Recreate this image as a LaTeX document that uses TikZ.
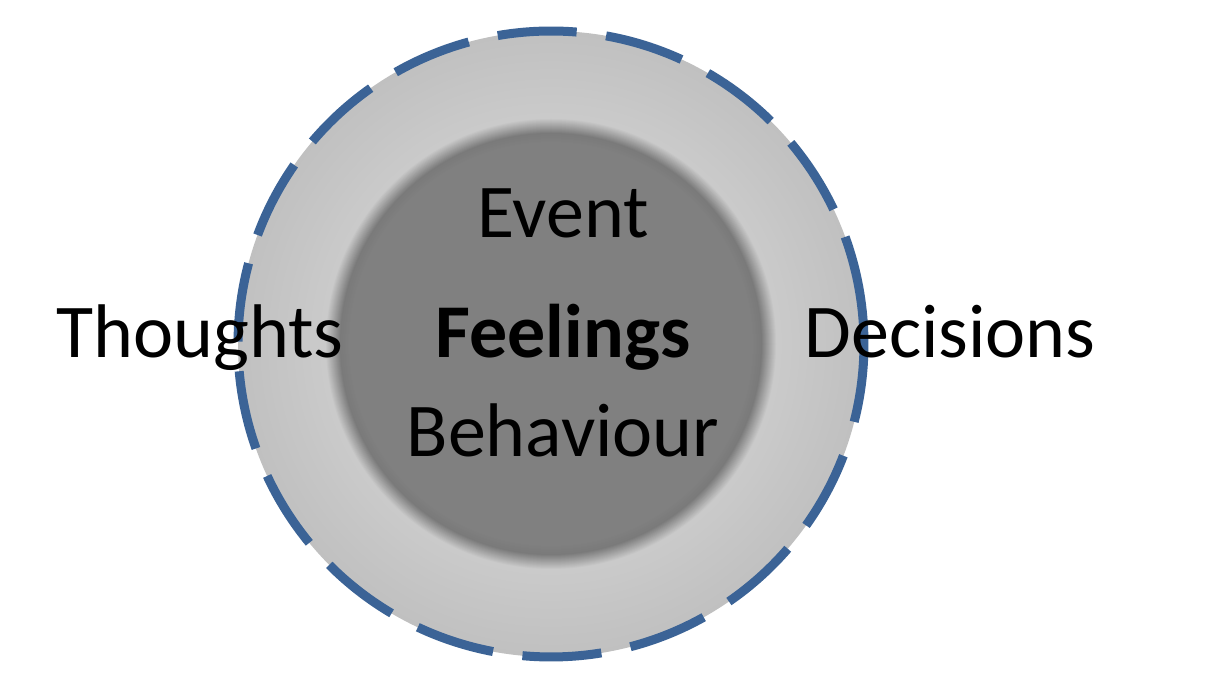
\documentclass[tikz,border=0pt]{standalone}
\usepackage{fontspec}
\setmainfont{Carlito}
\definecolor{ringout}{HTML}{C0C0C0}
\definecolor{ringin}{HTML}{CACACA}
\definecolor{coredark}{HTML}{808080}
\definecolor{corerim}{HTML}{7A7A7A}
\definecolor{dashblue}{HTML}{3B6396}
\tikzset{
  dashstroke/.style={draw=dashblue, line width=9pt, line cap=butt},
  label/.style={font=\fontsize{76}{82}\selectfont, text=black, inner sep=0pt, anchor=base},
}
\begin{document}
\begin{tikzpicture}[x=1pt,y=1pt]
\useasboundingbox (0,0) rectangle (1219,684);
\fill[white] (0,0) rectangle (1219,684);
\coordinate (c) at (551,340);
% outer ring with mild gradient
\foreach \r in {313,311,...,229}{
  \pgfmathsetmacro{\p}{100*(\r-229)/84}
  \fill[ringout!\p!ringin] (c) circle[radius=\r];
}
% soft-edged inner circle
\foreach \r in {226,225,...,200}{
  \ifdim\r pt>211pt
    \pgfmathsetmacro{\q}{100*(\r-211)/15}
    \fill[ringin!\q!corerim] (c) circle[radius=\r];
  \else
    \pgfmathsetmacro{\t}{min(100,100*(211-\r)/10)}
    \fill[coredark!\t!corerim] (c) circle[radius=\r];
  \fi
}
\fill[coredark] (c) circle[radius=199];
% dashed outline
\draw[dashstroke] (c) ++(-14.4:313) arc[start angle=-14.4, delta angle=34.4, radius=313];
\foreach \k in {2,...,17}{
  \pgfmathsetmacro{\a}{-14.4+19.94*\k}
  \draw[dashstroke] (c) ++(\a:313) arc[start angle=\a, delta angle=14.5, radius=313];
}
% labels
\node[label] (event) at (563,446) {Event};
\node[label, font=\fontsize{76}{82}\selectfont\bfseries] (feel) at (563,326) {Feelings};
\node[label] (beh) at (563,227) {Behaviour};
\node[label] (thou) at (200,326) {Thoughts};
\node[label] (dec) at (950,326) {Decisions};
\end{tikzpicture}
\end{document}
